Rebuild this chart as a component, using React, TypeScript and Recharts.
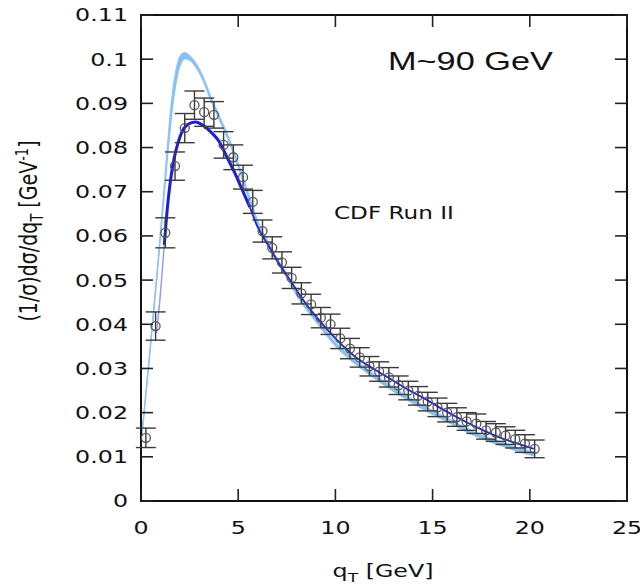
import { ComposedChart, XAxis, YAxis, Line, Area, Scatter, ErrorBar, ReferenceArea } from "recharts";

// layout of the plot frame (page pixels)
const W = 640;
const H = 587;
const PLOT_LEFT = 141;
const PLOT_RIGHT = 627;
const PLOT_TOP = 15;
const PLOT_BOTTOM = 501;
const TICK_LEN = 12;
const STRETCH = 1.32;

const xTicks = [0, 5, 10, 15, 20, 25];
const yTicks = [0, 0.01, 0.02, 0.03, 0.04, 0.05, 0.06, 0.07, 0.08, 0.09, 0.1, 0.11];

// CDF Run II data points
const cdfQ = [
  0.25, 0.75, 1.25, 1.75, 2.25, 2.75, 3.25, 3.75, 4.25, 4.75, 5.25, 5.75, 6.25, 6.75,
  7.25, 7.75, 8.25, 8.75, 9.25, 9.75, 10.25, 10.75, 11.25, 11.75, 12.25, 12.75, 13.25,
  13.75, 14.25, 14.75, 15.25, 15.75, 16.25, 16.75, 17.25, 17.75, 18.25, 18.75, 19.25,
  19.75, 20.25,
];
const cdfVal = [
  0.0143, 0.0396, 0.0607, 0.0758, 0.0844, 0.0896, 0.088, 0.0874, 0.0806, 0.0778, 0.0733,
  0.0677, 0.0611, 0.0573, 0.054, 0.0505, 0.047, 0.0445, 0.0415, 0.04, 0.0368, 0.0345,
  0.0325, 0.0305, 0.0293, 0.028, 0.0262, 0.025, 0.0238, 0.0225, 0.0212, 0.02, 0.019,
  0.018, 0.0175, 0.016, 0.0155, 0.0148, 0.014, 0.013, 0.0118,
];
const cdfErr = [
  0.0022, 0.0032, 0.0034, 0.0032, 0.0033, 0.0032, 0.0032, 0.003, 0.003, 0.0028, 0.0027,
  0.0026, 0.0025, 0.0025, 0.0024, 0.0024, 0.0024, 0.0023, 0.0023, 0.0023, 0.0023, 0.0023,
  0.0022, 0.0022, 0.0022, 0.0022, 0.0021, 0.0021, 0.0021, 0.0021, 0.0021, 0.0021, 0.0021,
  0.002, 0.0022, 0.002, 0.002, 0.002, 0.002, 0.002, 0.002,
];

// light blue band
const lightQ = [
  0.05, 0.2, 0.4, 0.65, 0.9, 1.15, 1.4, 1.6, 1.8, 2.0, 2.25, 2.5, 2.8, 3.2, 3.6, 4.0, 4.5,
  5.0, 5.5, 6.0, 6.5, 7.0, 7.5, 8.0, 9.0, 10.0, 11.0, 12.0, 13.0, 14.0, 15.0, 16.0, 17.0,
  18.0, 19.0, 20.2,
];
const lightMid = [
  0.015, 0.022, 0.031, 0.043, 0.055, 0.068, 0.081, 0.09, 0.096, 0.0995, 0.1008, 0.1003,
  0.0988, 0.0955, 0.091, 0.087, 0.082, 0.076, 0.0695, 0.063, 0.0585, 0.0545, 0.051, 0.047,
  0.041, 0.0355, 0.0315, 0.0282, 0.0252, 0.0225, 0.02, 0.0178, 0.0155, 0.0137, 0.0122,
  0.0106,
];
const lightHalf = [
  0.0003, 0.0003, 0.0004, 0.0004, 0.0005, 0.0008, 0.0014, 0.0017, 0.0015, 0.0011, 0.0007,
  0.0005, 0.0004, 0.0004, 0.0004, 0.0004, 0.0004, 0.0004, 0.0004, 0.0004, 0.0004, 0.0004,
  0.0004, 0.0004, 0.0004, 0.0004, 0.0004, 0.0004, 0.0004, 0.0004, 0.0004, 0.0004, 0.0004,
  0.0004, 0.0004, 0.0004,
];

// dark blue curve: faint start, thick peak part, thin tail
const faintQ = [0.8, 1.0, 1.2];
const faintVal = [0.038, 0.047, 0.058];
const peakQ = [1.2, 1.35, 1.5, 1.7, 1.9, 2.1, 2.4, 2.8, 3.2, 3.6, 4.0, 4.4, 4.8, 5.2, 5.6];
const peakVal = [
  0.058, 0.066, 0.072, 0.0775, 0.081, 0.0835, 0.0852, 0.0858, 0.085, 0.0835, 0.0815, 0.078,
  0.0745, 0.0705, 0.0665,
];
const tailQ = [5.6, 6.0, 6.6, 7.2, 7.7, 8.3, 9.0, 10.0, 11.0, 12.0, 12.5, 13.5, 14.5, 15.5, 16.5, 17.5, 18.5, 19.5, 20.2];
const tailVal = [
  0.0665, 0.062, 0.0575, 0.053, 0.0498, 0.0458, 0.0418, 0.0368, 0.0327, 0.0298, 0.0285,
  0.0258, 0.0234, 0.0208, 0.0184, 0.0162, 0.0143, 0.0128, 0.0118,
];

const points = cdfQ.map((q, i) => ({ q, y: cdfVal[i], err: cdfErr[i] }));
const band = lightQ.map((q, i) => ({ q, band: [lightMid[i] - lightHalf[i], lightMid[i] + lightHalf[i]] }));
const faint = faintQ.map((q, i) => ({ q, y: faintVal[i] }));
const peak = peakQ.map((q, i) => ({ q, y: peakVal[i] }));
const tail = tailQ.map((q, i) => ({ q, y: tailVal[i] }));

function YTick({ x, y, payload }: any) {
  return (
    <g>
      <line x1={PLOT_LEFT} x2={PLOT_LEFT + TICK_LEN} y1={y} y2={y} stroke="#222" strokeWidth={1.6} />
      <line x1={PLOT_RIGHT - TICK_LEN} x2={PLOT_RIGHT} y1={y} y2={y} stroke="#222" strokeWidth={1.6} />
      <text
        transform={`translate(${x},${y}) scale(${STRETCH},1)`}
        textAnchor="end"
        dy="0.36em"
        fontFamily="DejaVu Sans"
        fontSize={18}
        fill="#111"
      >
        {String(payload.value)}
      </text>
    </g>
  );
}

function XTick({ x, y, payload }: any) {
  return (
    <g>
      <line x1={x} x2={x} y1={PLOT_BOTTOM - TICK_LEN} y2={PLOT_BOTTOM} stroke="#222" strokeWidth={1.6} />
      <line x1={x} x2={x} y1={PLOT_TOP} y2={PLOT_TOP + TICK_LEN} stroke="#222" strokeWidth={1.6} />
      <text
        transform={`translate(${x},${y + 33}) scale(${STRETCH},1)`}
        textAnchor="middle"
        fontFamily="DejaVu Sans"
        fontSize={18}
        fill="#111"
      >
        {String(payload.value)}
      </text>
    </g>
  );
}

function Ring(props: any) {
  const { cx, cy } = props;
  return <circle cx={cx} cy={cy} r={4.5} fill="none" stroke="#555" strokeWidth={1.3} />;
}

export default function App() {
  return (
    <div style={{ position: "absolute", left: 0, top: 0, width: W, height: H, background: "#fff" }}>
      <ComposedChart
        width={W}
        height={H}
        margin={{ top: PLOT_TOP, right: W - PLOT_RIGHT, bottom: 26, left: 0 }}
      >
        <XAxis
          dataKey="q"
          type="number"
          domain={[0, 25]}
          ticks={xTicks}
          allowDataOverflow
          height={H - 26 - PLOT_BOTTOM}
          tickLine={false}
          axisLine={false}
          tickSize={0}
          tickMargin={0}
          tick={<XTick />}
        />
        <YAxis
          type="number"
          domain={[0, 0.11]}
          ticks={yTicks}
          allowDataOverflow
          width={PLOT_LEFT}
          tickLine={false}
          axisLine={false}
          tickSize={0}
          tickMargin={13}
          tick={<YTick />}
        />
        <Area
          data={band}
          dataKey="band"
          type="monotone"
          stroke="#8cc4f4"
          strokeWidth={1.3}
          fill="#86bff2"
          fillOpacity={1}
          dot={false}
          activeDot={false}
          isAnimationActive={false}
        />
        <Line
          data={faint}
          dataKey="y"
          type="monotone"
          stroke="#9a9af2"
          strokeWidth={1.5}
          dot={false}
          isAnimationActive={false}
        />
        <Line
          data={peak}
          dataKey="y"
          type="monotone"
          stroke="#1c1cdc"
          strokeWidth={3}
          dot={false}
          isAnimationActive={false}
        />
        <Line
          data={tail}
          dataKey="y"
          type="monotone"
          stroke="#2222e0"
          strokeWidth={1.8}
          dot={false}
          isAnimationActive={false}
        />
        <Scatter data={points} dataKey="y" shape={<Ring />} isAnimationActive={false}>
          <ErrorBar dataKey="err" direction="y" width={10} stroke="#3a3a3a" strokeWidth={1.4} />
        </Scatter>
        <ReferenceArea
          x1={0}
          x2={25}
          y1={0}
          y2={0.11}
          fill="none"
          fillOpacity={0}
          stroke="#111"
          strokeWidth={2}
          strokeOpacity={1}
        />
      </ComposedChart>
      <svg
        width={W}
        height={H}
        style={{ position: "absolute", left: 0, top: 0, pointerEvents: "none" }}
      >
        <text
          transform={`translate(28,231) scale(${STRETCH},1) rotate(-90)`}
          textAnchor="middle"
          dy="0.35em"
          fontFamily="DejaVu Sans"
          fontSize={19}
          fill="#111"
        >
          (1/σ)dσ/dq
          <tspan fontSize={13} dy="5">T</tspan>
          <tspan dy="-5"> [GeV</tspan>
          <tspan fontSize={13} dy="-7">-1</tspan>
          <tspan dy="7">]</tspan>
        </text>
        <text
          transform={`translate(383,577) scale(${STRETCH},1)`}
          textAnchor="middle"
          fontFamily="DejaVu Sans"
          fontSize={18}
          fill="#111"
        >
          q
          <tspan fontSize={13} dy="5">T</tspan>
          <tspan dy="-5"> [GeV]</tspan>
        </text>
        <text
          transform={`translate(388,70) scale(${STRETCH},1)`}
          fontFamily="Liberation Sans"
          fontSize={26}
          fill="#111"
        >
          M~90 GeV
        </text>
        <text
          transform={`translate(334,219) scale(${STRETCH},1)`}
          fontFamily="DejaVu Sans"
          fontSize={17.5}
          fill="#111"
        >
          CDF Run II
        </text>
      </svg>
    </div>
  );
}
